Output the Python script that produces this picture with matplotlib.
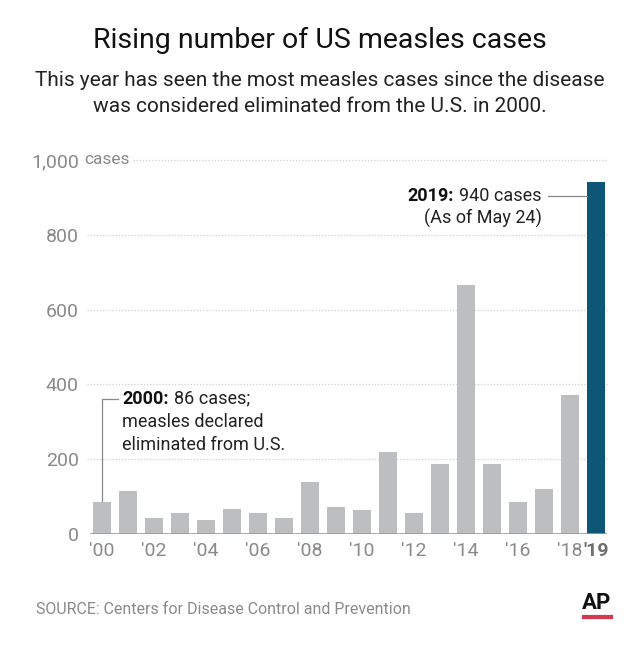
import matplotlib
matplotlib.use("Agg")
import matplotlib.pyplot as pyplot
from matplotlib.offsetbox import TextArea, HPacker, AnnotationBbox


# measles cases per year (CDC)
years = list(range(2000, 2020))
cases = [86, 116, 44, 56, 37, 66, 55, 43, 140, 71, 63, 220, 55, 187, 667, 188, 86, 120, 372, 940]
tick_years = [2000, 2002, 2004, 2006, 2008, 2010, 2012, 2014, 2016, 2018, 2019]
y_ticks = [0, 200, 400, 600, 800, 1000]

pyplot.rcParams['font.family'] = ['Roboto', 'DejaVu Sans']

GREY_BAR = '#bcbec0'
BLUE_BAR = '#0d5675'
TICK_GREY = '#8a8a8a'
ANN = 13

W, H = 641, 650
fig = pyplot.figure(figsize=(W / 100, H / 100), dpi=100)

# axes placed in pixel terms
left, right, bottom, top = 90, 607, 534, 160
ax = fig.add_axes([left / W, 1 - bottom / H, (right - left) / W, (bottom - top) / H])

x = [y - 2000 for y in years]
colors = [BLUE_BAR if y == 2019 else GREY_BAR for y in years]
ax.bar(x, cases, width=0.72, color=colors, zorder=2)

ax.set_xlim(-0.46, 19.42)
ax.set_ylim(0, 1000)

for s in ax.spines.values():
    s.set_visible(False)
ax.axhline(0, color='#9a9a9a', lw=1.2, zorder=3)

# dotted gridlines
for t in y_ticks[1:]:
    start = 0.083 if t == 1000 else -0.005
    ax.axhline(t, xmin=start, xmax=1, color='#cfcfcf', lw=0.9, ls=(0, (1, 1.5)), zorder=1, clip_on=False)

ax.set_yticks(y_ticks)
ax.set_yticklabels(['0', '200', '400', '600', '800', '1,000'])
ax.tick_params(axis='y', length=0, pad=8, labelsize=14, labelcolor=TICK_GREY)
ax.text(-0.5 - 0.2, 1000, 'cases', ha='left', va='center', fontsize=12.5, color=TICK_GREY)

ax.set_xticks([t - 2000 for t in tick_years])
ax.set_xticklabels(["'" + str(t)[2:] for t in tick_years])
ax.tick_params(axis='x', length=0, pad=6, labelsize=14, labelcolor=TICK_GREY)
last = ax.get_xticklabels()[-1]
last.set_fontweight('bold')
last.set_color('#6e6e6e')


def mixed_line(bold, plain, xy, align):
    # bold lead-in followed by plain text, on one line
    box = HPacker(children=[TextArea(bold, textprops=dict(fontsize=ANN, fontweight='bold', color='#111111')),
                            TextArea(plain, textprops=dict(fontsize=ANN, color='#222222'))],
                  pad=0, sep=4, align='baseline')
    ab = AnnotationBbox(box, xy, xycoords='data', box_alignment=align, frameon=False, pad=0)
    ax.add_artist(ab)


# 2019 annotation
ax.plot([17.15, 19 - 0.36], [905, 905], color='#888888', lw=0.9, zorder=3)
mixed_line('2019:', '940 cases', (16.9, 905), (1, 0.5))
ax.text(16.9, 843, '(As of May 24)', ha='right', va='center', fontsize=ANN, color='#222222')

# 2000 annotation
ax.plot([0, 0, 0.6], [86 + 3, 362, 362], color='#888888', lw=0.9, zorder=3)
mixed_line('2000:', '86 cases;', (0.78, 362), (0, 0.5))
ax.text(0.78, 299, 'measles declared', ha='left', va='center', fontsize=ANN, color='#222222')
ax.text(0.78, 237, 'eliminated from U.S.', ha='left', va='center', fontsize=ANN, color='#222222')

# titles
fig.text(320 / W, 1 - 40 / H, 'Rising number of US measles cases', ha='center', va='center',
         fontsize=20.5, color='#111111')
fig.text(320 / W, 1 - 80 / H, 'This year has seen the most measles cases since the disease',
         ha='center', va='center', fontsize=15, color='#222222')
fig.text(320 / W, 1 - 107 / H, 'was considered eliminated from the U.S. in 2000.',
         ha='center', va='center', fontsize=15, color='#222222')

# source and logo
fig.text(36 / W, 1 - 610 / H, 'SOURCE: Centers for Disease Control and Prevention', ha='left',
         va='center', fontsize=11.5, color='#8a8a8a')
fig.text(597 / W, 1 - 603 / H, 'AP', ha='center', va='center', fontsize=16, fontweight='bold',
         color='#111111')
fig.add_artist(matplotlib.lines.Line2D([584 / W, 611 / W], [1 - 617 / H, 1 - 617 / H],
                                       color='#d6394f', lw=3))

pyplot.savefig('out.png', dpi=100)
